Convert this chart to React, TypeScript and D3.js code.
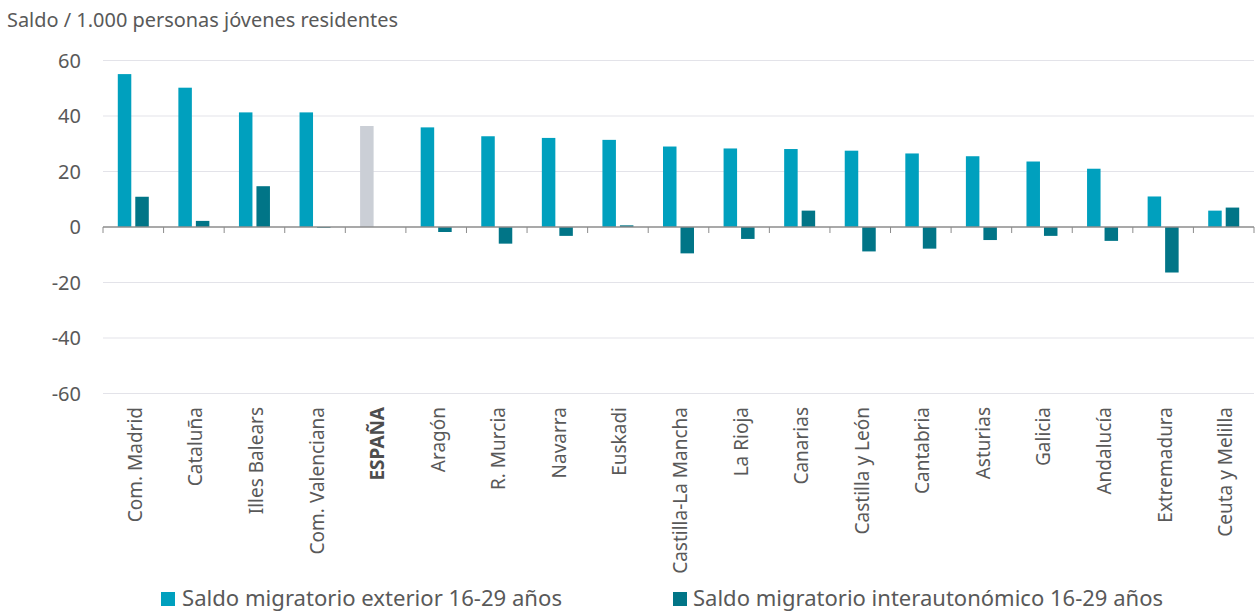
import React from "react";
import * as d3 from "d3";

const categories = [
  "Com. Madrid", "Cataluña", "Illes Balears", "Com. Valenciana", "ESPAÑA", "Aragón",
  "R. Murcia", "Navarra", "Euskadi", "Castilla-La Mancha", "La Rioja", "Canarias",
  "Castilla y León", "Cantabria", "Asturias", "Galicia", "Andalucía", "Extremadura",
  "Ceuta y Melilla",
];
const exterior = [55.1, 50.2, 41.3, 41.3, 36.4, 35.9, 32.7, 32.1, 31.4, 29.0, 28.3, 28.1, 27.5, 26.5, 25.5, 23.6, 21.0, 11.0, 5.9];
const interauto: (number | null)[] = [10.9, 2.2, 14.7, -0.3, null, -1.8, -6.0, -3.2, 0.6, -9.5, -4.3, 5.9, -8.8, -7.8, -4.7, -3.2, -5.0, -16.4, 7.0];
const yTicks = [60, 40, 20, 0, -20, -40, -60];
const seriesNames = ["Saldo migratorio exterior 16-29 años", "Saldo migratorio interautonómico 16-29 años"];
const yTitle = "Saldo / 1.000 personas jóvenes residentes";

const W = 1258, H = 613;
const C_EXT = "#00A0BE", C_INT = "#017587", C_ESP = "#CBCFD6";
const FONT = "'Noto Sans', sans-serif";
const TXT = "#595959";

export default function App() {
  const x = d3.scaleBand<string>().domain(categories).range([103, 1254]).padding(0);
  const y = d3.scaleLinear().domain([-60, 60]).range([393.5, 60.5]);
  const bw = 13.5, gap = 4;
  return (
    <svg width={W} height={H} style={{ position: "absolute", left: 0, top: 0 }} fontFamily={FONT}>
      <text x={7} y={27} fontSize={19} fill={TXT} textLength={391} lengthAdjust="spacingAndGlyphs">{yTitle}</text>
      {yTicks.map((t) => (
        <g key={t}>
          {t !== 0 && <line x1={103} x2={1254} y1={y(t)} y2={y(t)} stroke="#E3E3E9" strokeWidth={1} />}
          <text x={81} y={y(t)} dy="0.36em" textAnchor="end" fontSize={20} fill={TXT}>{t}</text>
        </g>
      ))}
      {categories.map((c, i) => {
        const cx = x(c)! + x.bandwidth() / 2;
        const e = exterior[i];
        const v = interauto[i];
        const isEsp = c === "ESPAÑA";
        return (
          <g key={c}>
            <rect x={cx - gap / 2 - bw} y={y(e)} width={bw} height={y(0) - y(e)} fill={isEsp ? C_ESP : C_EXT} />
            {v !== null && (
              <rect x={cx + gap / 2} y={Math.min(y(v), y(0))} width={bw} height={Math.abs(y(v) - y(0))} fill={C_INT} />
            )}
          </g>
        );
      })}
      <line x1={103} x2={1254} y1={y(0)} y2={y(0)} stroke="#8C8C8C" strokeWidth={1.3} />
      {d3.range(categories.length + 1).map((i) => {
        const xx = 103 + i * x.bandwidth();
        return <line key={i} x1={xx} x2={xx} y1={y(0)} y2={y(0) + 6} stroke="#8C8C8C" strokeWidth={1} />;
      })}
      {categories.map((c) => {
        const cx = x(c)! + x.bandwidth() / 2 + 8.5;
        return (
          <text key={c} transform={`translate(${cx},407) rotate(-90)`} textAnchor="end" fontSize={19}
            fill={c === "ESPAÑA" ? "#4D4D4D" : TXT} fontWeight={c === "ESPAÑA" ? 700 : 400}>{c}</text>
        );
      })}
      <rect x={161} y={592} width={14} height={14} fill={C_EXT} />
      <text x={182} y={606} fontSize={22} fill={TXT} textLength={380} lengthAdjust="spacingAndGlyphs">{seriesNames[0]}</text>
      <rect x={673} y={592} width={14} height={14} fill={C_INT} />
      <text x={693} y={606} fontSize={22} fill={TXT} textLength={470} lengthAdjust="spacingAndGlyphs">{seriesNames[1]}</text>
    </svg>
  );
}
